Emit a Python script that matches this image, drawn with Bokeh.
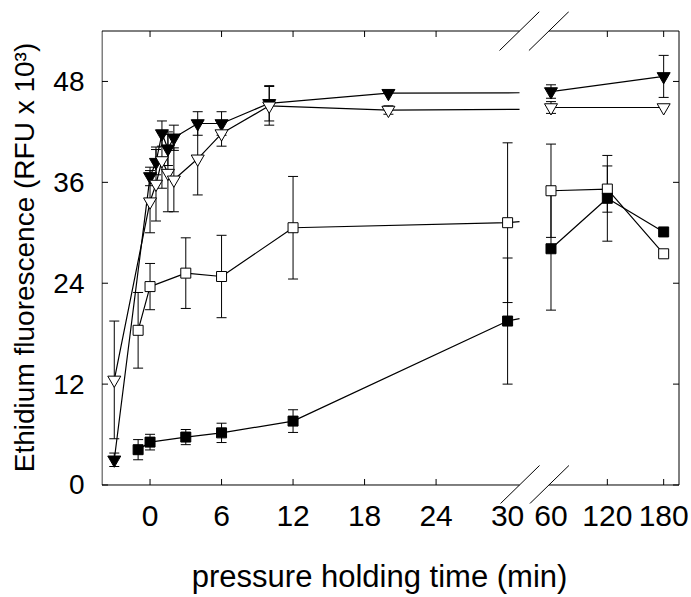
import numpy as np
from bokeh.plotting import figure
from bokeh.models import ColumnDataSource, Whisker, TeeHead, FixedTicker
from bokeh.embed import file_html
from bokeh.resources import INLINE

# ---------------- data (time in min, fluorescence in RFU x 10^3) ----------------
t_tri_filled = [-3, 0, 0.5, 1, 1.5, 2, 4, 6, 10, 20, 60, 180]
y_tri_filled = [3.0, 36.7, 38.4, 41.8, 40.0, 41.3, 43.0, 43.0, 45.4, 46.6, 46.8, 48.6]
e_tri_filled = [0.8, 1.1, 1.5, 1.5, 2.0, 1.5, 1.4, 1.4, 2.1, 0.0, 0.8, 2.5]

t_tri_open = [-3, 0, 0.5, 1, 1.5, 2, 4, 6, 10, 20, 60, 180]
y_tri_open = [12.5, 33.7, 35.8, 38.6, 37.1, 36.3, 38.8, 41.8, 45.1, 44.6, 44.9, 44.9]
e_tri_open = [7.0, 3.7, 4.4, 3.3, 4.6, 3.8, 4.3, 1.5, 2.3, 0.5, 0.7, 0.0]

t_sq_open = [-1, 0, 3, 6, 12, 30, 60, 120, 180]
y_sq_open = [18.4, 23.6, 25.2, 24.8, 30.6, 31.2, 35.0, 35.2, 27.5]
e_sq_open = [4.5, 2.75, 4.2, 4.9, 6.1, 9.5, 5.55, 2.75, 0.0]

t_sq_filled = [-1, 0, 3, 6, 12, 30, 60, 120, 180]
y_sq_filled = [4.2, 5.1, 5.7, 6.2, 7.6, 19.5, 28.1, 34.1, 30.1]
e_sq_filled = [1.2, 0.93, 0.9, 1.15, 1.35, 7.5, 7.3, 5.1, 0.0]

x_tick_values = [0, 6, 12, 18, 24, 30, 60, 120, 180]
x_tick_marks = [0, 6, 12, 18, 24, 120, 180]
y_tick_values = [0, 12, 24, 36, 48]

# ---------------- broken-axis mapping ----------------
SEG1_END = 31.0        # last visible minute of the first panel
SEG2_START = 57.8      # first visible minute of the second panel
D60 = 33.64            # display position of 60 min
SCALE2 = 0.07878       # display units per minute in the second panel
XB_LO, XB_HI = -4.03, 44.38   # box (visible axes) limits, display units
YB_LO, YB_HI = 0.0, 54.0      # box limits, fluorescence units
PX_X = 11.919                 # pixels per display unit
PX_Y = 8.407                  # pixels per fluorescence unit

# frame slightly larger than the drawn box so that break marks can stick out
X_RANGE = (XB_LO - 0.5 / PX_X, XB_HI + 4.5 / PX_X)
Y_RANGE = (YB_LO - 18.5 / PX_Y, YB_HI + 19.5 / PX_Y)


def disp(t):
    t = np.asarray(t, dtype=float)
    return np.where(t <= SEG1_END, t, D60 + (t - 60.0) * SCALE2)


def split(t, y):
    t = np.asarray(t, dtype=float)
    y = np.asarray(y, dtype=float)
    left = t <= 30
    tl, yl = list(t[left]), list(y[left])
    i = int(np.argmax(t >= 60))
    t0, y0, t1, y1 = tl[-1], yl[-1], t[i], y[i]
    yl.append(y0 + (y1 - y0) * (SEG1_END - t0) / (t1 - t0))
    tl.append(SEG1_END)
    right = t >= 60
    return (disp(tl), yl), (disp(t[right]), list(y[right]))


FONT = "Liberation Sans"

p = figure(width=691, height=597, x_range=X_RANGE, y_range=Y_RANGE,
           output_backend="svg", toolbar_location=None, title=None,
           min_border_left=101, min_border_right=8,
           min_border_top=11, min_border_bottom=94)
p.outline_line_color = None
p.grid.visible = False
p.background_fill_color = "white"
p.border_fill_color = "white"

# bottom axis: labels only (tick marks drawn below)
xt_major = [round(float(v), 4) for v in disp(x_tick_values)]
overrides = {xt_major[k]: str(x_tick_values[k]) for k in range(len(xt_major))}
xb = p.xaxis[0]
xb.ticker = FixedTicker(ticks=xt_major)
xb.major_label_overrides = overrides
xb.axis_line_color = None
xb.major_tick_line_color = None
xb.minor_tick_line_color = None
xb.major_tick_in = 0
xb.major_tick_out = 0
xb.major_label_text_font = FONT
xb.major_label_text_font_size = "30px"
xb.major_label_text_color = "black"
xb.major_label_standoff = 2
# trailing no-break spaces nudge the centred title slightly to the left
xb.axis_label = "pressure holding time (min)" + "\u00a0" * 3
xb.axis_label_text_font = FONT
xb.axis_label_text_font_size = "31px"
xb.axis_label_text_font_style = "normal"
xb.axis_label_text_color = "black"
xb.axis_label_standoff = 30

yl_ax = p.yaxis[0]
yl_ax.ticker = FixedTicker(ticks=y_tick_values)
yl_ax.axis_line_color = None
yl_ax.major_tick_line_color = None
yl_ax.minor_tick_line_color = None
yl_ax.major_tick_in = 0
yl_ax.major_tick_out = 0
yl_ax.major_label_text_font = FONT
yl_ax.major_label_text_font_size = "28px"
yl_ax.major_label_text_color = "black"
yl_ax.major_label_standoff = 17
yl_ax.axis_label = "Ethidium fluorescence (RFU x 10³)"
yl_ax.axis_label_text_font = FONT
yl_ax.axis_label_text_font_size = "28px"
yl_ax.axis_label_text_font_style = "normal"
yl_ax.axis_label_text_color = "black"
yl_ax.axis_label_standoff = 10

LINE = dict(line_color="black", line_width=1)

# box: left / right full height, top / bottom with the break gap
x_gap_end = float(disp([SEG2_START])[0])
p.segment(x0=[XB_LO, XB_HI], y0=[YB_LO, YB_LO], x1=[XB_LO, XB_HI], y1=[YB_HI, YB_HI], **LINE)
p.segment(x0=[XB_LO, x_gap_end, XB_LO, x_gap_end],
          y0=[YB_LO, YB_LO, YB_HI, YB_HI],
          x1=[SEG1_END, XB_HI, SEG1_END, XB_HI],
          y1=[YB_LO, YB_LO, YB_HI, YB_HI], **LINE)

# inward tick marks
TICK = 6.0
xm = disp(x_tick_marks)
p.segment(x0=xm, y0=[YB_LO] * len(xm), x1=xm, y1=[YB_LO + TICK / PX_Y] * len(xm), **LINE)
p.segment(x0=xm, y0=[YB_HI] * len(xm), x1=xm, y1=[YB_HI - TICK / PX_Y] * len(xm), **LINE)
ny = len(y_tick_values)
p.segment(x0=[XB_LO] * ny, y0=y_tick_values, x1=[XB_LO + TICK / PX_X] * ny, y1=y_tick_values, **LINE)
p.segment(x0=[XB_HI] * ny, y0=y_tick_values, x1=[XB_HI - TICK / PX_X] * ny, y1=y_tick_values, **LINE)

# break marks (//) on top and bottom edges
DX, DY = 20.0 / PX_X, 19.5 / PX_Y
bx0, by0, bx1, by1 = [], [], [], []
for e in (SEG1_END, x_gap_end):
    for yy in (YB_LO, YB_HI):
        bx0.append(e - DX); by0.append(yy - DY)
        bx1.append(e + DX); by1.append(yy + DY)
p.segment(x0=bx0, y0=by0, x1=bx1, y1=by1, **LINE)

series = [
    (t_tri_filled, y_tri_filled, e_tri_filled, "inverted_triangle", "black", 13),
    (t_tri_open, y_tri_open, e_tri_open, "inverted_triangle", "white", 13),
    (t_sq_open, y_sq_open, e_sq_open, "square", "white", 10),
    (t_sq_filled, y_sq_filled, e_sq_filled, "square", "black", 10),
]

# error bars
for t, y, e, _, _, _ in series:
    t = np.asarray(t, float); y = np.asarray(y, float); e = np.asarray(e, float)
    m = e > 0
    src = ColumnDataSource(dict(x=disp(t[m]), lo=y[m] - e[m], hi=y[m] + e[m]))
    w = Whisker(base="x", lower="lo", upper="hi", source=src, dimension="height",
                line_color="black", line_width=1,
                upper_head=TeeHead(size=10, line_color="black", line_width=1),
                lower_head=TeeHead(size=10, line_color="black", line_width=1))
    p.add_layout(w)

# lines
for t, y, e, _, _, _ in series:
    (xl, yl), (xr, yr_) = split(t, y)
    p.line(xl, yl, line_color="black", line_width=1.2)
    p.line(xr, yr_, line_color="black", line_width=1.2)

# markers
for t, y, e, marker, fill, size in series:
    p.scatter(disp(t), y, marker=marker, size=size, fill_color=fill,
              line_color="black", line_width=1)

open("out.html", "w").write(file_html(p, INLINE))
